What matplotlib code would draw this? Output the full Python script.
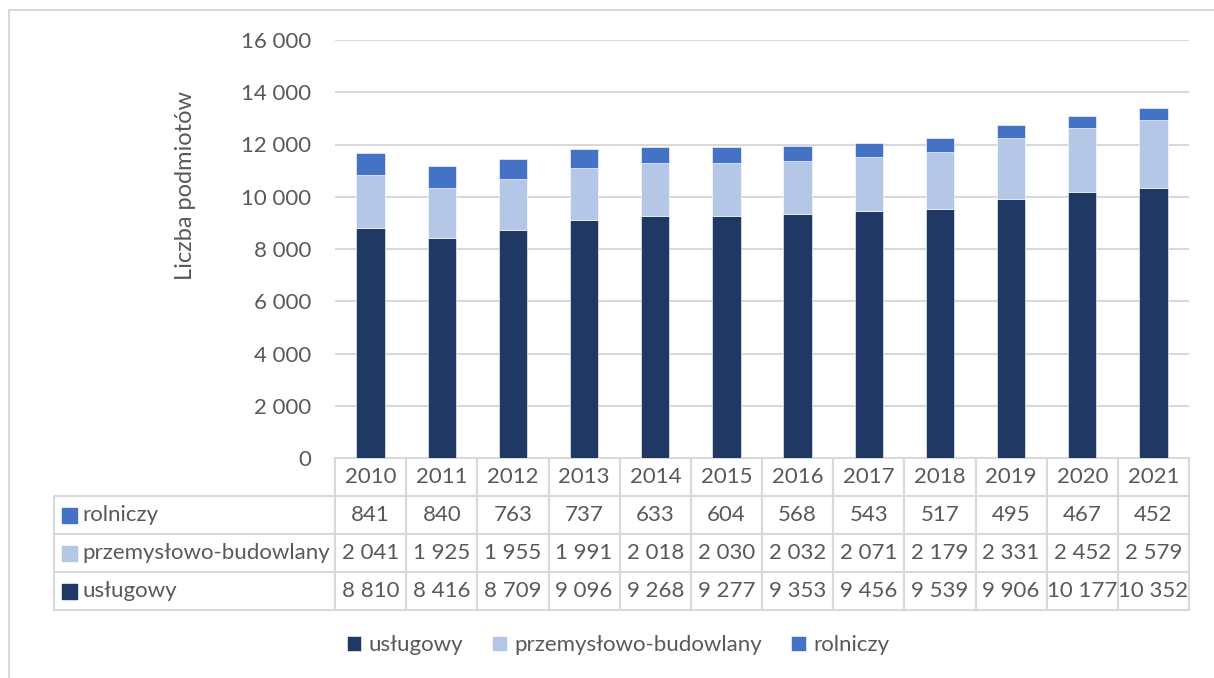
import matplotlib
matplotlib.use("Agg")
import matplotlib.pyplot as plt
from matplotlib.patches import Rectangle

plt.rcParams['font.family'] = ['Lato', 'DejaVu Sans']

years = ['2010', '2011', '2012', '2013', '2014', '2015',
         '2016', '2017', '2018', '2019', '2020', '2021']
uslugowy = [8810, 8416, 8709, 9096, 9268, 9277, 9353, 9456, 9539, 9906, 10177, 10352]
przemyslowo = [2041, 1925, 1955, 1991, 2018, 2030, 2032, 2071, 2179, 2331, 2452, 2579]
rolniczy = [841, 840, 763, 737, 633, 604, 568, 543, 517, 495, 467, 452]
series_names = ['usługowy', 'przemysłowo-budowlany', 'rolniczy']
colors = ['#203864', '#B4C7E7', '#4472C4']
yticks = [0, 2000, 4000, 6000, 8000, 10000, 12000, 14000, 16000]

text_col = '#595959'
grid_col = '#d9d9d9'
W, H = 1214, 678


def fmt(v):
    return f"{v:,}".replace(",", " ")


fig = plt.figure(figsize=(W / 100, H / 100), dpi=100)
ax_l, ax_r, ax_t, ax_b = 335, 1189, 40, 458
ax = fig.add_axes([ax_l / W, 1 - ax_b / H, (ax_r - ax_l) / W, (ax_b - ax_t) / H])

x = range(len(years))
bottom = [0] * len(years)
handles = []
for vals, name, c in zip([uslugowy, przemyslowo, rolniczy], series_names, colors):
    b = ax.bar(x, vals, width=0.4, bottom=bottom, color=c, label=name,
               edgecolor='white', linewidth=0.4, zorder=3)
    handles.append(b)
    bottom = [bb + v for bb, v in zip(bottom, vals)]

ax.set_xlim(-0.5, len(years) - 0.5)
ax.set_ylim(0, 16000)
ax.set_yticks(yticks)
ax.set_yticklabels([fmt(v) for v in yticks])
ax.set_xticks([])
ax.tick_params(axis='y', length=0, pad=17, labelsize=16, labelcolor=text_col)
ax.grid(axis='y', color=grid_col, linewidth=1.5, zorder=0)
for s in ax.spines.values():
    s.set_visible(False)

# data table below the plot
axw = ax_r - ax_l
axh = ax_b - ax_t
rows = [rolniczy, przemyslowo, uslugowy]
row_labels = ['rolniczy', 'przemysłowo-budowlany', 'usługowy']
row_colors = [colors[2], colors[1], colors[0]]
table_bottom = 610
label_w = 281
tbl = ax.table(cellText=[[fmt(v) for v in r] for r in rows],
               rowLabels=row_labels, colLabels=years,
               colWidths=[1 / len(years)] * len(years),
               cellLoc='center', rowLoc='left', colLoc='center',
               bbox=[0, -(table_bottom - ax_b) / axh, 1, (table_bottom - ax_b) / axh])
tbl.auto_set_font_size(False)
tbl.set_fontsize(16)
tbl._autoColumns = [c for c in tbl._autoColumns if c != -1]
for (r, c), cell in tbl.get_celld().items():
    cell.set_edgecolor(grid_col)
    cell.set_linewidth(1.5)
    cell.get_text().set_color(text_col)
    if c == -1:
        cell.set_width(label_w / axw)
        cell.PAD = 28 / label_w

# colored keys in row label cells
row_h = (table_bottom - ax_b) / 4
for i, c in enumerate(row_colors):
    yc = ax_b + row_h * (i + 1.5)
    ax.add_patch(Rectangle(((62 - ax_l) / axw, (ax_b - yc - 7.5) / axh),
                           15 / axw, 15 / axh, transform=ax.transAxes,
                           color=c, clip_on=False))

fig.text(185 / W, 1 - 185 / H, 'Liczba podmiotów', rotation=90,
         ha='center', va='center', fontsize=17, color=text_col)

leg = fig.legend(handles=handles, labels=series_names, loc='center',
                 bbox_to_anchor=(618 / W, 1 - 645 / H), ncol=3, frameon=False,
                 fontsize=16, handlelength=0.65, handleheight=0.65,
                 handletextpad=0.35, columnspacing=1.3)
for t in leg.get_texts():
    t.set_color(text_col)

# chart outer frame
fig.add_artist(Rectangle((9 / W, -0.1), 1.2, 1 - 10 / H + 0.1,
                         transform=fig.transFigure, fill=False,
                         edgecolor=grid_col, linewidth=1.5))

fig.savefig('out.png', dpi=100)
